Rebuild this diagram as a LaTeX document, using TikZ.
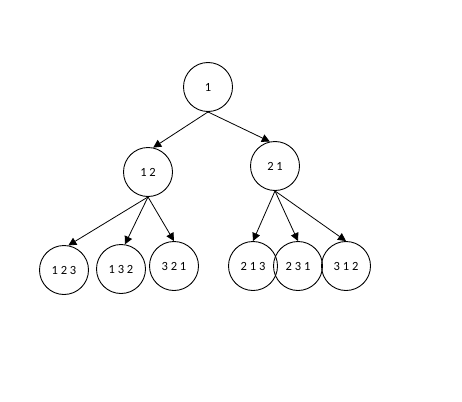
\documentclass[tikz,border=0pt]{standalone}
\usepackage{fontspec}
\setmainfont{Carlito}
\usetikzlibrary{arrows.meta}
\tikzset{every node/.style={font=\fontsize{12.5}{14}\selectfont}}
\tikzset{perm/.style={circle, draw, line width=0.9pt, minimum size=49pt, inner sep=0pt}}

\begin{document}
\begin{tikzpicture}[x=1pt, y=-1pt, >={Triangle[length=8pt, width=8pt]}]
  % White page of the same size as the reference.
  \fill[white] (0,0) rectangle (462,401);

  % Root of the tree.
  \node[perm] (root) at (208,87) {1};

  % Second level.
  \node[perm] (n12) at (148,172) {1 2};
  \node[perm] (n21) at (275,166) {2 1};

  % Leaves.
  \node[perm] (n123) at (64,270) {1 2 3};
  \node[perm] (n132) at (121,269) {1 3 2};
  \node[perm] (n321) at (174,266) {3 2 1};
  \node[perm] (n213) at (253,266) {2 1 3};
  \node[perm] (n231) at (298,266) {2 3 1};
  \node[perm] (n312) at (346,266) {3 1 2};

  % Edges.
  \draw[->, line width=0.8pt] (root.south) -- (n12.78);
  \draw[->, line width=0.8pt] (root.south) -- (n21.102);
  \draw[->, line width=0.8pt] (n12.south) -- (n123.80);
  \draw[->, line width=0.8pt] (n12.south) -- (n132.81);
  \draw[->, line width=0.8pt] (n12.south) -- (n321.north);
  \draw[->, line width=0.8pt] (n21.south) -- (n213.north);
  \draw[->, line width=0.8pt] (n21.south) -- (n231.north);
  \draw[->, line width=0.8pt] (n21.south) -- (n312.north);
\end{tikzpicture}
\end{document}
